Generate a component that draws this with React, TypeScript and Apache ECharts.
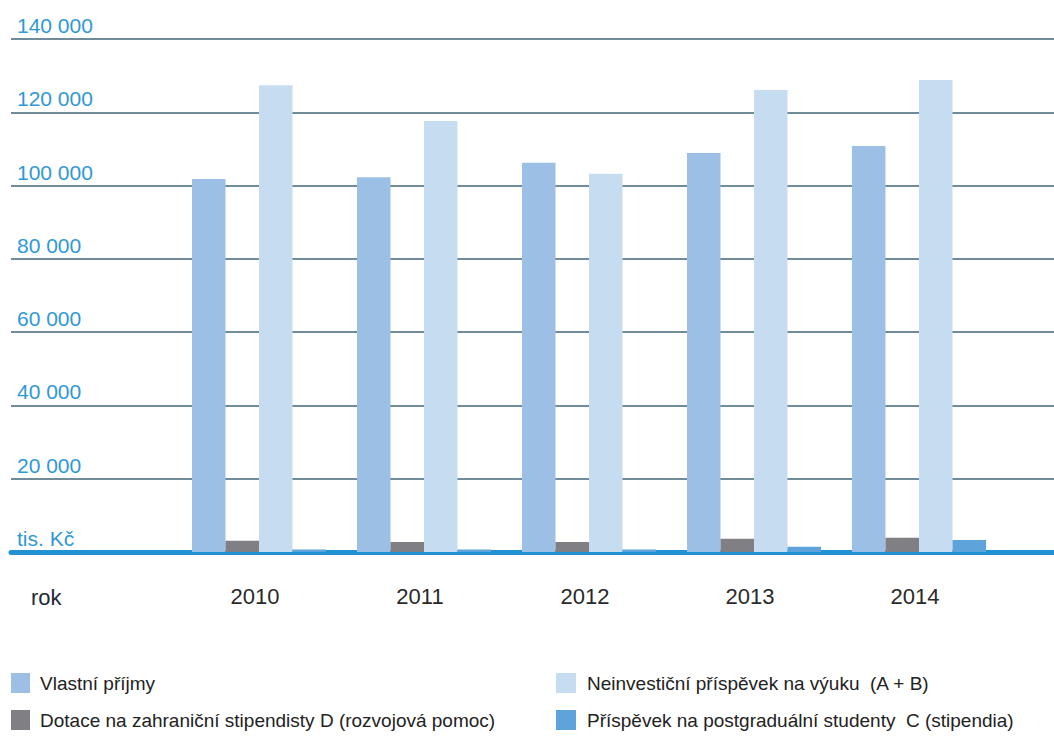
import React, { useEffect, useRef } from "react";
import * as echarts from "echarts";

const years = ["2010", "2011", "2012", "2013", "2014"];
const vlastniPrijmy = [101800, 102300, 106200, 108900, 110800];
const dotaceD = [3100, 2700, 2700, 3600, 3900];
const neinvesticni = [127400, 117600, 103200, 126100, 128800];
const prispevekC = [700, 700, 700, 1400, 3300];

const seriesNames = [
  "Vlastní příjmy",
  "Dotace na zahraniční stipendisty D (rozvojová pomoc)",
  "Neinvestiční příspěvek na výuku  (A + B)",
  "Příspěvek na postgraduální studenty  C (stipendia)",
];
const seriesColors = ["#9bbfe5", "#808084", "#c6dcf1", "#5ea3da"];
const seriesData = [vlastniPrijmy, dotaceD, neinvesticni, prispevekC];

const yMin = 0;
const yMax = 140000;
const yStep = 20000;

const FONT = "'Liberation Sans', Arial, sans-serif";

function fmt(v: number): string {
  if (v === 0) return "tis. Kč";
  return String(v).replace(/\B(?=(\d{3})+(?!\d))/g, " ");
}

export default function App() {
  const ref = useRef<HTMLDivElement>(null);
  useEffect(() => {
    document.body.style.margin = "0";
    if (!ref.current) return;
    const chart = echarts.init(ref.current, undefined, { renderer: "svg" });
    chart.setOption({
      animation: false,
      textStyle: { fontFamily: FONT },
      grid: [
        { left: 11, right: 0, top: 39, bottom: 184 },
        { left: 176.5, right: 52.5, top: 39, bottom: 184 },
      ],
      xAxis: [
        {
          gridIndex: 0,
          type: "category",
          data: ["rok"],
          offset: 2,
          axisLine: { show: true, lineStyle: { color: "#2191d1", width: 5 } },
          axisTick: { show: false },
          axisLabel: { show: false },
          splitLine: { show: false },
        },
        {
          gridIndex: 1,
          type: "category",
          data: years,
          axisLine: { show: false },
          axisTick: { show: false },
          axisLabel: {
            color: "#2a2a2a",
            fontSize: 22,
            fontFamily: FONT,
            margin: 33,
            padding: [0, 8, 0, 0],
          },
        },
      ],
      yAxis: [
        {
          gridIndex: 0,
          type: "value",
          min: yMin,
          max: yMax,
          interval: yStep,
          axisLine: { show: false },
          axisTick: { show: false },
          axisLabel: {
            inside: true,
            margin: 6,
            verticalAlign: "bottom",
            color: "#2f98d6",
            fontSize: 21,
            fontFamily: FONT,
            padding: [0, 0, 3, 0],
            formatter: (v: number) => fmt(v),
          },
          splitLine: { show: true, lineStyle: { color: "#416579", width: 1.5 } },
        },
        {
          gridIndex: 1,
          type: "value",
          min: yMin,
          max: yMax,
          interval: yStep,
          show: false,
          splitLine: { show: false },
        },
      ],
      legend: [
        {
          orient: "vertical",
          left: 11,
          top: 673,
          padding: 0,
          height: 120,
          width: 530,
          itemWidth: 19,
          itemHeight: 20,
          itemGap: 17,
          icon: "rect",
          data: [seriesNames[0], seriesNames[1]],
          textStyle: { fontSize: 19, color: "#222", fontFamily: FONT, padding: [0, 0, 0, 5] },
          selectedMode: false,
        },
        {
          orient: "vertical",
          left: 556,
          top: 673,
          padding: 0,
          height: 120,
          width: 498,
          itemWidth: 20,
          itemHeight: 20,
          itemGap: 17,
          icon: "rect",
          data: [seriesNames[2], seriesNames[3]],
          textStyle: { fontSize: 19, color: "#222", fontFamily: FONT, padding: [0, 0, 0, 6] },
          selectedMode: false,
        },
      ],
      graphic: [
        {
          type: "text",
          left: 31,
          top: 586,
          style: { text: "rok", fontSize: 22, fill: "#1f2a35", fontFamily: FONT },
        },
      ],
      series: seriesNames.map((name, i) => ({
        name,
        type: "bar",
        xAxisIndex: 1,
        yAxisIndex: 1,
        data: seriesData[i],
        barWidth: 33.5,
        barGap: "0%",
        itemStyle: { color: seriesColors[i] },
      })),
    });
    return () => chart.dispose();
  }, []);
  return (
    <div
      ref={ref}
      style={{ width: 1054, height: 736, position: "absolute", left: 0, top: 0 }}
    />
  );
}
